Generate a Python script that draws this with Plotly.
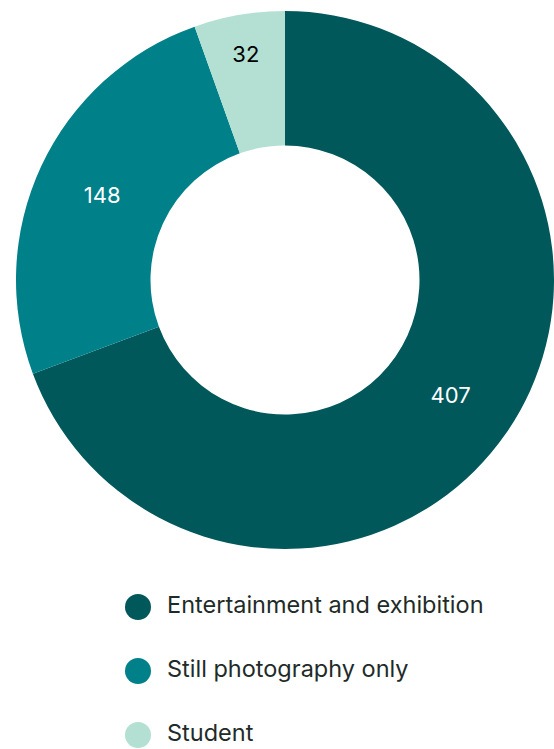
import plotly.graph_objects as go

categories = ["Entertainment and exhibition", "Still photography only", "Student"]
values = [407, 148, 32]
colors = ["#00585A", "#00818A", "#B3E0D2"]
label_colors = ["#FFFFFF", "#FFFFFF", "#000000"]
legend_index = [0, 1, 2]

FONT = "Inter, Roboto, sans-serif"

fig = go.Figure()
fig.add_trace(go.Pie(
    labels=categories,
    values=values,
    hole=0.5,
    sort=False,
    direction="clockwise",
    rotation=0,
    marker=dict(colors=colors, line=dict(width=0)),
    textinfo="value",
    textposition="inside",
    insidetextorientation="horizontal",
    textfont=dict(family=FONT, size=22, color=label_colors),
    showlegend=False,
    domain=dict(x=[16/554, 1.0], y=[199/749, 739/749]),
    hoverinfo="label+value",
))

# legend drawn as a data trace with circle markers
fig.add_trace(go.Scatter(
    x=[0]*len(categories),
    y=legend_index,
    mode="markers+text",
    marker=dict(symbol="circle", size=26, color=colors),
    text=["\u2002" + c for c in categories],
    textposition="middle right",
    textfont=dict(family=FONT, size=23.5, color="#1E2B28"),
    showlegend=False,
    hoverinfo="skip",
    cliponaxis=False,
))

fig.update_layout(
    width=554, height=749,
    margin=dict(l=0, r=0, t=0, b=0),
    paper_bgcolor="white",
    plot_bgcolor="rgba(0,0,0,0)",
    xaxis=dict(visible=False, range=[-138, 416], domain=[0, 1], fixedrange=True),
    yaxis=dict(visible=False, range=[(749-607)/64, -0.5], domain=[0, 174/749], fixedrange=True),
    showlegend=False,
)

fig.write_html("out.html")
